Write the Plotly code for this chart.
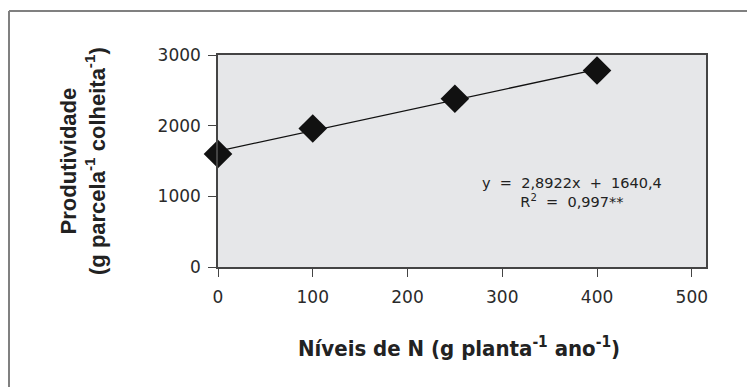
import plotly.graph_objects as go

n_levels = [0, 100, 250, 400]
yield_vals = [1600, 1960, 2380, 2780]
slope = 2.8922
intercept = 1640.4
x_ticks = [0, 100, 200, 300, 400, 500]
y_ticks = [0, 1000, 2000, 3000]

fit_x = [n_levels[0], n_levels[-1]]
fit_y = [slope * v + intercept for v in fit_x]

# page-pixel helpers (figure is offset 8px by the body margin)
PL, PR, PT, PB = 218, 706, 55, 267
W, H = PR - PL, PB - PT
def px(x):
    return (x - PL) / W
def py(y):
    return (PB - y) / H

fig = go.Figure()
fig.add_trace(go.Scatter(x=fit_x, y=fit_y, mode="lines",
                         line=dict(color="#111111", width=1.3), showlegend=False))
fig.add_trace(go.Scatter(x=n_levels, y=yield_vals, mode="markers",
                         marker=dict(symbol="diamond", size=22, color="#111111"),
                         cliponaxis=False, showlegend=False))

tickfont = dict(family="DejaVu Sans, Verdana, Arial", size=17, color="#2a2a2a")
NB = "\u00a0"
eq = f"y{NB} ={NB} 2,8922x{NB} +{NB} 1640,4<br>R<sup>2</sup>{NB} ={NB} 0,997**"

fig.update_layout(
    width=747, height=379,
    margin=dict(l=PL - 8, r=755 - PR, t=PT - 8, b=387 - PB),
    paper_bgcolor="white",
    plot_bgcolor="#e6e7e9",
    xaxis=dict(range=[0, 515], tickvals=x_ticks, ticks="outside", ticklen=8,
               tickcolor="#444444", showgrid=False, zeroline=False,
               showline=True, linecolor="#444444", linewidth=1.5, mirror=True,
               tickfont=tickfont, ticklabelstandoff=6),
    yaxis=dict(range=[0, 3000], tickvals=y_ticks, ticks="outside", ticklen=8,
               tickcolor="#444444", showgrid=False, zeroline=False,
               showline=True, linecolor="#444444", linewidth=1.5, mirror=True,
               tickfont=tickfont, ticklabelstandoff=4),
    shapes=[
        dict(type="line", xref="paper", yref="paper",
             x0=px(9), x1=px(760), y0=py(11), y1=py(11),
             line=dict(color="#808080", width=2)),
        dict(type="line", xref="paper", yref="paper",
             x0=px(9), x1=px(9), y0=py(11), y1=py(395),
             line=dict(color="#808080", width=2)),
    ],
    annotations=[
        dict(text=eq, x=px(572), y=py(192), xref="paper", yref="paper",
             xanchor="center", yanchor="middle",
             showarrow=False, align="center",
             font=dict(family="DejaVu Sans, Verdana, Arial", size=14.5, color="#222222")),
        dict(text="<b>Produtividade</b><br><b>(g parcela<sup>-1</sup> colheita<sup>-1</sup>)</b>",
             x=px(83), y=py(161), xref="paper", yref="paper",
             xanchor="center", yanchor="middle",
             showarrow=False, textangle=-90, align="center",
             font=dict(family="Liberation Sans, Arial", size=22, color="#222222")),
        dict(text="<b>Níveis de N (g planta<sup>-1</sup> ano<sup>-1</sup>)</b>",
             x=px(459), y=py(347), xref="paper", yref="paper",
             xanchor="center", yanchor="middle",
             showarrow=False,
             font=dict(family="Liberation Sans Narrow, DejaVu Sans Condensed, Arial", size=22, color="#222222")),
    ],
)

fig.write_html("out.html")
